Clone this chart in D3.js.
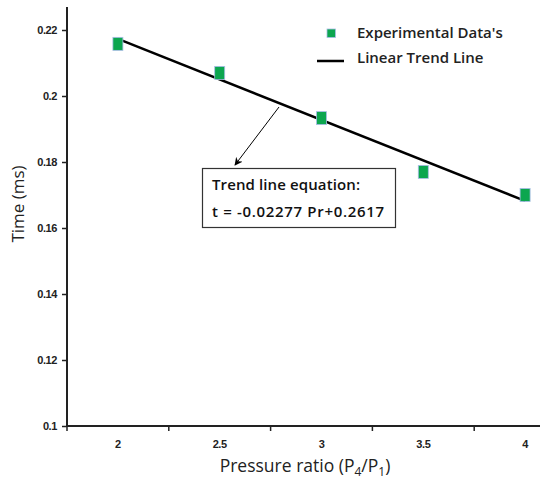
<!DOCTYPE html>
<html><head><meta charset="utf-8">
<script src="https://cdn.jsdelivr.net/npm/d3@7"></script>
<style>body{margin:0;background:#fff}svg{display:block}</style>
</head><body><svg id="c" width="540" height="483"></svg>
<script>
const categories = ["2","2.5","3","3.5","4"];
const timeValues = [0.2158,0.2070,0.1933,0.1770,0.1700];
const trendCats = ["2","4"];
const trendValues = [0.2173,0.1682];
const yTicks = [0.1,0.12,0.14,0.16,0.18,0.2,0.22];
const yTickLabels = ["0.1","0.12","0.14","0.16","0.18","0.2","0.22"];
const legendLabels = ["Experimental Data's","Linear Trend Line"];
const equationLines = ["Trend line equation:","t = -0.02277 Pr+0.2617"];

const svg = d3.select("#c");
const x = d3.scaleBand().domain(categories).range([67,576]).paddingInner(0).paddingOuter(0);
const y = d3.scaleLinear().domain([0.1,0.22]).range([426,30]);
const cx = c => x(c) + x.bandwidth()/2;
const axFont = "'Liberation Sans', Arial, sans-serif";
const txtFont = "'Open Sans', 'DejaVu Sans', sans-serif";

// Y axis
const yAxis = svg.append("g").attr("transform","translate(67,0)")
  .call(d3.axisLeft(y).tickValues(yTicks).tickFormat((d,i)=>yTickLabels[i]).tickSize(5).tickPadding(5));
yAxis.select(".domain").remove();
yAxis.selectAll(".tick line").attr("stroke","#222").attr("stroke-width",1.5);
yAxis.selectAll("text").attr("font-family",axFont).attr("font-weight","bold").attr("font-size",11).attr("fill","#222").attr("letter-spacing",-0.4);
svg.append("line").attr("x1",67).attr("x2",67).attr("y1",7).attr("y2",427).attr("stroke","#222").attr("stroke-width",2);

// X axis
const xAxis = svg.append("g").attr("transform","translate(0,426)")
  .call(d3.axisBottom(x).tickSize(0).tickPadding(14));
xAxis.select(".domain").remove();
xAxis.selectAll("text").attr("font-family",axFont).attr("font-weight","bold").attr("font-size",11).attr("fill","#222").attr("letter-spacing",-0.4);
svg.append("g").selectAll("line").data(categories).join("line")
  .attr("x1",d=>x(d)).attr("x2",d=>x(d)).attr("y1",426).attr("y2",431)
  .attr("stroke","#222").attr("stroke-width",1.5);
svg.append("line").attr("x1",66).attr("x2",540).attr("y1",426).attr("y2",426).attr("stroke","#222").attr("stroke-width",2);

// Axis titles
svg.append("text").attr("transform","translate(24,204) rotate(-90)").attr("text-anchor","middle")
  .attr("font-family",txtFont).attr("font-size",17).attr("fill","#222").text("Time (ms)");
const xt = svg.append("text").attr("x",305).attr("y",472).attr("text-anchor","middle")
  .attr("font-family",txtFont).attr("font-size",17.5).attr("fill","#222");
xt.append("tspan").text("Pressure ratio (P");
xt.append("tspan").attr("font-size",12).attr("dy",4).text("4");
xt.append("tspan").attr("dy",-4).text("/P");
xt.append("tspan").attr("font-size",12).attr("dy",4).text("1");
xt.append("tspan").attr("dy",-4).text(")");

// Trend line
const line = d3.line().x(d=>cx(d[0])).y(d=>y(d[1]));
svg.append("path").datum(trendCats.map((c,i)=>[c,trendValues[i]])).attr("d",line)
  .attr("fill","none").attr("stroke","#000").attr("stroke-width",2.5);

// Points
svg.append("g").selectAll("rect").data(categories).join("rect")
  .attr("x",(d)=>cx(d)-5).attr("y",(d,i)=>y(timeValues[i])-6.5).attr("width",10).attr("height",13)
  .attr("fill","#0ca64f").attr("stroke","#a9bde6").attr("stroke-width",0.8);

// Legend
svg.append("rect").attr("x",327).attr("y",29).attr("width",8.5).attr("height",8.5)
  .attr("fill","#0ca64f").attr("stroke","#a9bde6").attr("stroke-width",0.8);
svg.append("line").attr("x1",317).attr("x2",344).attr("y1",61).attr("y2",61).attr("stroke","#000").attr("stroke-width",2.5);
legendLabels.forEach((t,i)=>{
  svg.append("text").attr("x",357).attr("y",38+i*25).attr("font-family",txtFont).attr("font-weight",600)
    .attr("font-size",15).attr("fill","#222").text(t);
});

// Annotation arrow
svg.append("defs").append("marker").attr("id","ah").attr("viewBox","0 0 10 10").attr("refX",9).attr("refY",5)
  .attr("markerWidth",8).attr("markerHeight",8).attr("orient","auto")
  .append("path").attr("d","M0,0 L10,5 L0,10 L3,5 Z").attr("fill","#000");
svg.append("line").attr("x1",279).attr("y1",107).attr("x2",235).attr("y2",165)
  .attr("stroke","#000").attr("stroke-width",1).attr("marker-end","url(#ah)");

// Annotation box
svg.append("rect").attr("x",202.5).attr("y",168.5).attr("width",193).attr("height",59)
  .attr("fill","#fff").attr("stroke","#333").attr("stroke-width",1.2);
equationLines.forEach((t,i)=>{
  svg.append("text").attr("x",212).attr("y",190+i*27).attr("font-family",txtFont).attr("font-weight",600)
    .attr("font-size",15).attr("fill","#111").attr("textLength",i===0?148:172).attr("lengthAdjust","spacing").text(t);
});
</script></body></html>
